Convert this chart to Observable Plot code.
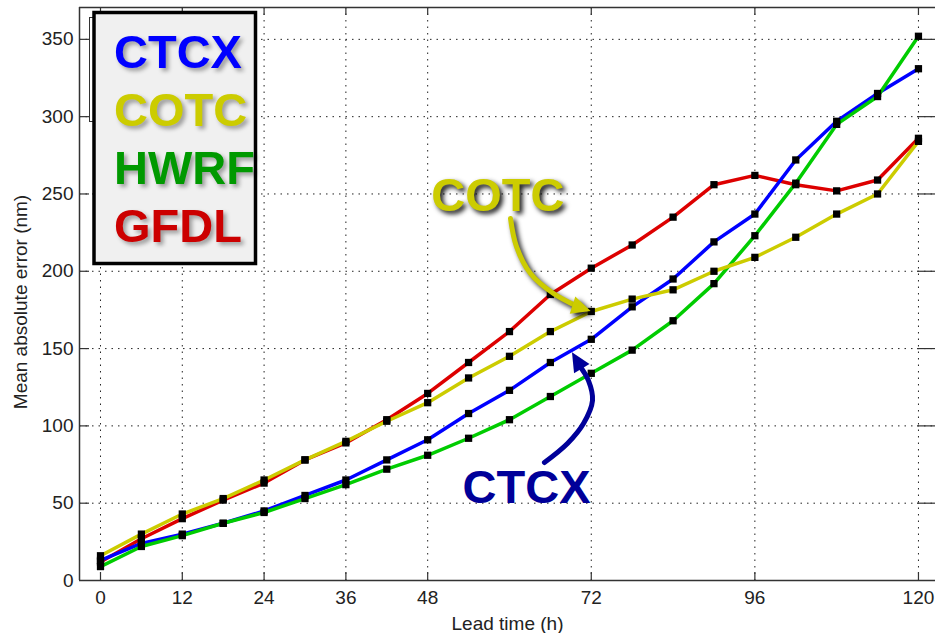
<!DOCTYPE html>
<html><head><meta charset="utf-8">
<script src="https://cdn.jsdelivr.net/npm/d3@7"></script>
<script src="https://cdn.jsdelivr.net/npm/@observablehq/plot@0.6"></script>
<style>
html,body{margin:0;padding:0;background:#fff;}
#chart{width:935px;height:633px;}
</style></head><body><div id="chart"></div>
<script>
// ---- data ----
const leadTimes = [0,6,12,18,24,30,36,42,48,54,60,66,72,78,84,90,96,102,108,114,120];
const ctcx = [13,24,30,37,45,55,65,78,91,108,123,141,156,177,195,219,237,272,297,315,331];
const cotc = [16,30,43,53,65,78,90,103,115,131,145,161,174,182,188,200,209,222,237,250,284];
const hwrf = [9,22,29,37,44,53,62,72,81,92,104,119,134,149,168,192,223,257,295,313,352];
const gfdl = [12,27,40,52,63,78,89,104,121,141,161,185,202,217,235,256,262,256,252,259,286];
const models = ["CTCX","COTC","HWRF","GFDL"];
const lineColors = ["#0000ff","#cccc00","#00cc00","#dd0000"];
const legendColors = ["#0000ff","#cccc00","#009900","#cc0000"];
const drawOrder = ["GFDL","CTCX","HWRF","COTC"];
const xTicks = [0,12,24,36,48,72,96,120];
const yTicks = [0,50,100,150,200,250,300,350];
const xLabel = "Lead time (h)";
const yLabel = "Mean absolute error (nm)";

// annotations, in data units
const cotcNote = {label:"COTC", x:58.3, y:239.3};
const ctcxNote = {label:"CTCX", x:62.5, y:50.4};
const cotcArrowX = [60.15,61.03,63.08,66.46,69.9];
const cotcArrowY = [234.1,216.0,198.6,185.6,177.4];
const cotcTip = {x:71.9, y:174.3, angle:108};
const ctcxArrowX = [65.13,68.51,70.86,72.18,71.59,70.1];
const ctcxArrowY = [76.3,88.6,101.5,116.4,129.3,140.0];
const ctcxTip = {x:69.17, y:147.6, angle:-31};

// ---- layout ----
const W = 935, H = 633, mL = 79, mR = 0, mT = 7, mB = 53;
const xDomain = [-3.08, 122.5];
const yDomain = [0, 370.6];
const kx = (W - mL - mR) / (xDomain[1] - xDomain[0]);
const ky = (H - mT - mB) / (yDomain[1] - yDomain[0]);

const series = {CTCX: ctcx, COTC: cotc, HWRF: hwrf, GFDL: gfdl};
const rows = models.flatMap(m => leadTimes.map((t, i) => ({model: m, t, v: series[m][i]})));
const colorOf = m => lineColors[models.indexOf(m)];

// filled arrowhead polygon (data units) from tip + screen angle (deg clockwise from up)
function headPolygon(tip, len, half) {
  const a = tip.angle * Math.PI / 180;
  const ux = Math.sin(a), uy = -Math.cos(a);     // screen direction
  const px = -uy, py = ux;                        // perpendicular
  const bx = -ux * len, by = -uy * len;
  const pts = [[0, 0], [bx + px * half, by + py * half], [bx - px * half, by - py * half], [0, 0]];
  return pts.map(([sx, sy]) => ({x: tip.x + sx / kx, y: tip.y - sy / ky}));
}

const gridStyle = {stroke: "#222", strokeWidth: 1, strokeDasharray: "1.5,5"};
const axisColor = "#333";
const noteYellow = "#cccc01";

const plot = Plot.plot({
  width: W, height: H,
  marginLeft: mL, marginRight: mR, marginTop: mT, marginBottom: mB,
  style: {fontFamily: "'Liberation Sans', Arial, sans-serif", fontSize: "19px", color: "#222", background: "#fff"},
  x: {domain: xDomain, ticks: xTicks, tickSize: 0, tickPadding: 10, label: null},
  y: {domain: yDomain, ticks: yTicks, tickSize: 0, tickPadding: 6, label: null},
  marks: [
    Plot.ruleX(xTicks, {...gridStyle}),
    Plot.ruleY(yTicks.filter(d => d > 0), {...gridStyle}),
    Plot.ruleX([xDomain[0]], {stroke: axisColor, strokeWidth: 1.5}),
    Plot.ruleY([yDomain[0]], {stroke: axisColor, strokeWidth: 1.5}),
    Plot.ruleY([yDomain[1]], {stroke: axisColor, strokeWidth: 1.5}),
    Plot.ruleX(xTicks, {y1: yDomain[0], y2: yDomain[0] + 8 / ky, stroke: axisColor, strokeWidth: 1.2}),
    Plot.ruleX(xTicks, {y1: yDomain[1] - 8 / ky, y2: yDomain[1], stroke: axisColor, strokeWidth: 1.2}),
    Plot.ruleY(yTicks.filter(d => d > 0), {x1: xDomain[0], x2: xDomain[0] + 10 / kx, stroke: axisColor, strokeWidth: 1.2}),
    Plot.ruleY(yTicks.filter(d => d > 0), {x1: xDomain[1] - 18 / kx, x2: xDomain[1], stroke: axisColor, strokeWidth: 1.2}),
    ...drawOrder.map(m => Plot.line(rows.filter(d => d.model === m), {x: "t", y: "v", stroke: colorOf(m), strokeWidth: 3.5, strokeLinejoin: "round"})),
    Plot.dot(rows, {x: "t", y: "v", symbol: "square", r: 4.1, fill: "#000", stroke: "none"}),
    // annotation COTC
    Plot.line(cotcArrowX.map((x, i) => ({x, y: cotcArrowY[i]})), {x: "x", y: "y", curve: "catmull-rom", stroke: noteYellow, strokeWidth: 5}),
    Plot.line(headPolygon(cotcTip, 19, 9), {x: "x", y: "y", fill: noteYellow, stroke: "none"}),
    Plot.text([cotcNote], {x: "x", y: "y", text: "label", fill: noteYellow, fontSize: 47, fontWeight: "bold", textAnchor: "middle", lineAnchor: "bottom"}),
    // annotation CTCX
    Plot.line(ctcxArrowX.map((x, i) => ({x, y: ctcxArrowY[i]})), {x: "x", y: "y", curve: "catmull-rom", stroke: "#000099", strokeWidth: 5}),
    Plot.line(headPolygon(ctcxTip, 19, 9), {x: "x", y: "y", fill: "#000099", stroke: "none"}),
    Plot.text([ctcxNote], {x: "x", y: "y", text: "label", fill: "#000099", fontSize: 47, fontWeight: "bold", textAnchor: "middle", lineAnchor: "bottom"}),
    // axis titles
    Plot.text([xLabel], {text: d => d, frameAnchor: "bottom", dy: 49, lineAnchor: "bottom", textAnchor: "middle", fontSize: 19, fill: "#222"}),
    Plot.text([yLabel], {text: d => d, frameAnchor: "left", rotate: -90, dx: -59, dy: 8, textAnchor: "middle", fontSize: 19, fill: "#222"})
  ]
});

document.getElementById("chart").appendChild(plot);

const svgNode = plot.tagName.toLowerCase() === "svg" ? plot : plot.querySelector("svg");
const svg = d3.select(svgNode);
// shadows for the COTC annotation
svg.selectAll("[stroke='" + noteYellow + "'], [fill='" + noteYellow + "']")
  .style("filter", "drop-shadow(3px 3px 2.5px rgba(0,0,0,0.9))");

// legend box
const lg = svg.append("g").attr("class", "legend");
lg.append("rect").attr("x", 89.5).attr("y", 17.5).attr("width", 8).attr("height", 104)
  .attr("fill", "#fff").attr("stroke", "#333").attr("stroke-width", 1);
lg.append("rect").attr("x", 94).attr("y", 12.5).attr("width", 161.5).attr("height", 251)
  .attr("fill", "#f0f0f0").attr("stroke", "#000").attr("stroke-width", 3.5);
const baselines = [68, 125.5, 184, 241.5];
models.forEach((m, i) => {
  lg.append("text").attr("x", 114).attr("y", baselines[i]).text(m)
    .attr("text-anchor", "start")
    .attr("fill", legendColors[i])
    .attr("font-family", "'Liberation Sans', Arial, sans-serif")
    .attr("font-weight", "bold").attr("font-size", 47)
    .style("filter", "drop-shadow(3px 3px 2px rgba(0,0,0,0.35))");
});
</script>
</body></html>
